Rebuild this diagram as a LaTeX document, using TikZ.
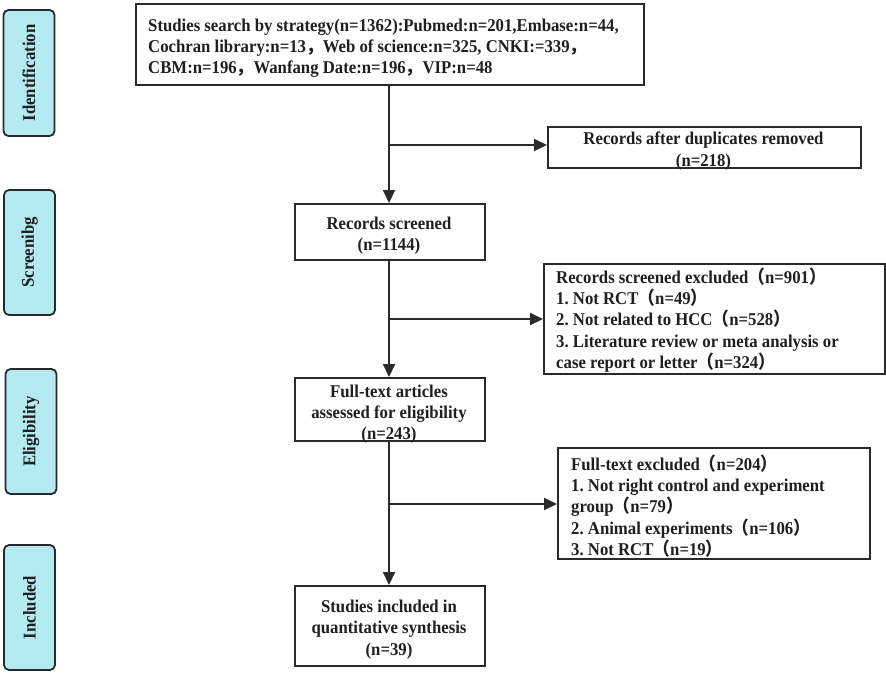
\documentclass[tikz,border=0pt]{standalone}
\usepackage{fontspec}
\setmainfont{Liberation Serif}[FakeStretch=0.93]
\newfontfamily\cjk{Noto Sans CJK SC}[FakeStretch=0.93]
\newcommand{\zlp}{{\cjk （}}
\newcommand{\zrp}{{\cjk ）}}
\newcommand{\zcm}{{\cjk ，}}
\usetikzlibrary{arrows.meta}
\definecolor{phasecyan}{HTML}{B4EBF3}
\definecolor{linegray}{HTML}{2A2A2A}
\frenchspacing
\begin{document}
\begin{tikzpicture}[x=1pt,y=-1pt,
  every node/.style={font=\bfseries\fontsize{18}{21.2}\selectfont, text=black!88},
  phase/.style={draw=linegray, line width=1.8pt, rounded corners=5pt, fill=phasecyan,
    rotate=90, inner sep=0pt, minimum height=51pt},
  box/.style={draw=linegray, line width=1.8pt, rectangle, inner sep=0pt, anchor=north west},
  ctext/.style={inner sep=0pt, align=center},
  ltext/.style={inner sep=0pt, align=left, anchor=west},
  flow/.style={draw=linegray, line width=2pt, -{Triangle[length=13pt,width=12pt]}}
]
\useasboundingbox (0,0) rectangle (886,673);

% phase labels
\node[phase, minimum width=126pt] (ident) at (29,73) {Identification};
\node[phase, minimum width=125pt] (screen) at (29.5,252.5) {Screenibg};
\node[phase, minimum width=125pt] (elig) at (31,431.5) {Eligibility};
\node[phase, minimum width=125pt] (incl) at (29.5,607.5) {Included};

% boxes
\node[box, minimum width=508pt, minimum height=81pt] (search) at (135,3) {};
\node[box, minimum width=313pt, minimum height=41pt] (dup) at (547,126) {};
\node[box, minimum width=190pt, minimum height=56pt] (screened) at (294,203) {};
\node[box, minimum width=341pt, minimum height=110pt] (excl1) at (543,263) {};
\node[box, minimum width=190pt, minimum height=63pt] (full) at (294,377) {};
\node[box, minimum width=312pt, minimum height=111pt] (excl2) at (557,447) {};
\node[box, minimum width=190pt, minimum height=80pt] (studies) at (294,585) {};

% texts
\node[ltext] (search-t) at (148,48)
 {Studies search by strategy(n=1362):Pubmed:n=201,Embase:n=44,\\
  Cochran library:n=13\zcm Web of science:n=325, CNKI:=339\zcm\\
  CBM:n=196\zcm Wanfang Date:n=196\zcm VIP:n=48};
\node[ctext] (dup-t) at (703.5,151) {Records after duplicates removed\\(n=218)};
\node[ctext] (screened-t) at (389,235.5) {Records screened\\(n=1144)};
\node[ltext] (excl1-t) at (556,320)
 {Records screened excluded\zlp n=901\zrp\\
  1. Not RCT\zlp n=49\zrp\\
  2. Not related to HCC\zlp n=528\zrp\\
  3. Literature review or meta analysis or\\
  case report or letter\zlp n=324\zrp};
\node[ctext] (full-t) at (389,414) {Full-text articles\\assessed for eligibility\\(n=243)};
\node[ltext] (excl2-t) at (571,506)
 {Full-text excluded\zlp n=204\zrp\\
  1. Not right control and experiment\\
  group\zlp n=79\zrp\\
  2. Animal experiments\zlp n=106\zrp\\
  3. Not RCT\zlp n=19\zrp};
\node[ctext] (studies-t) at (389,629.5) {Studies included in\\quantitative synthesis\\(n=39)};

% junctions
\coordinate (j1) at (389,145);
\coordinate (j2) at (389,319);
\coordinate (j3) at (389,504);

% connectors
\draw[flow] (search.south -| j1) -- (screened.north -| j1);
\draw[flow] (j1) -- (j1 -| dup.west);
\draw[flow] (screened.south -| j2) -- (full.north -| j2);
\draw[flow] (j2) -- (j2 -| excl1.west);
\draw[flow] (full.south -| j3) -- (studies.north -| j3);
\draw[flow] (j3) -- (j3 -| excl2.west);
\end{tikzpicture}
\end{document}
